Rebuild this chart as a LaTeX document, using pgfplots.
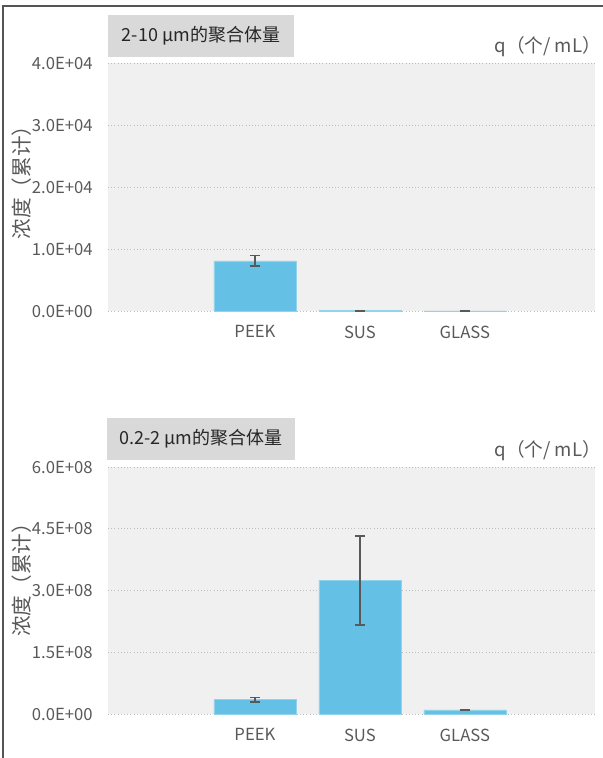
\documentclass[border=0pt]{standalone}
\usepackage{pgfplots}
\pgfplotsset{compat=1.18}
\usepackage{fontspec}
\setmainfont{Noto Sans CJK SC}
\definecolor{barblue}{HTML}{64C0E4}
\definecolor{bggray}{HTML}{F0F0F0}
\definecolor{txtgray}{HTML}{595959}
\definecolor{boxgray}{HTML}{D9D9D9}
\definecolor{gridgray}{HTML}{BDBDBD}
\definecolor{framegray}{HTML}{555555}
\pgfplotsset{
  mychart/.style={
    scale only axis,
    width=365.25pt,
    xmin=-1.4, xmax=3.24,
    ymin=0,
    scaled y ticks=false,
    axis line style={draw=none},
    axis background/.style={fill=bggray},
    ymajorgrids,
    major grid style={gridgray, dotted, line width=0.6pt},
    major tick length=0pt,
    tick style={draw=none},
    xtick={0,1,2},
    xticklabels={PEEK,SUS,GLASS},
    yticklabel style={anchor=east, xshift=-8pt, font=\fontsize{12.5}{14}\selectfont, text=txtgray},
    xticklabel style={anchor=north, yshift=-7.5pt, font=\fontsize{12.5}{14}\selectfont, text=txtgray},
    ybar, bar width=61.5pt, bar shift=0pt,
    clip=false,
  },
}
\begin{document}
\begin{tikzpicture}
\path[use as bounding box] (0,0) rectangle (452.25pt,-568.5pt);
\draw[framegray, line width=0.8pt] (2.25pt,-568.5pt) -- (2.25pt,-4.5pt) -- (452.25pt,-4.5pt);

% ---- top chart ----
\begin{axis}[mychart, at={(81pt,-233.25pt)}, anchor=south west,
  height=186pt, ymax=40000,
  ytick={0,10000,20000,30000,40000},
  yticklabels={0.0E+00,1.0E+04,2.0E+04,3.0E+04,4.0E+04}]
\addplot+[fill=barblue, draw=barblue!70!white, line width=0.4pt,
  error bars/.cd, y dir=both, y explicit,
  error bar style={txtgray, line width=1.2pt},
  error mark options={rotate=90, txtgray, mark size=3.75pt, line width=1.2pt}]
  coordinates {(0,8100) +- (0,850) (1,60) +- (0,30) (2,20) +- (0,20)};
\end{axis}
\fill[boxgray] (81pt,-11.25pt) rectangle (220.5pt,-42.75pt);
\node[anchor=center, text=black!85, font=\fontsize{13.5}{15}\selectfont] at (150.75pt,-27pt) {2-10 μm的聚合体量};
\node[anchor=east, inner sep=0pt, text=txtgray, font=\fontsize{14}{16}\selectfont] at (451pt,-35.25pt) {q（个/ mL）};
\node[rotate=90, text=txtgray, font=\fontsize{15.5}{17}\selectfont] at (16.5pt,-133pt) {浓度（累计）};

% ---- bottom chart ----
\begin{axis}[mychart, at={(81pt,-535.5pt)}, anchor=south west,
  height=185.25pt, ymax=6e8,
  ytick={0,1.5e8,3e8,4.5e8,6e8},
  yticklabels={0.0E+00,1.5E+08,3.0E+08,4.5E+08,6.0E+08}]
\addplot+[fill=barblue, draw=barblue!70!white, line width=0.4pt,
  error bars/.cd, y dir=both, y explicit,
  error bar style={txtgray, line width=1.2pt},
  error mark options={rotate=90, txtgray, mark size=3.75pt, line width=1.2pt}]
  coordinates {(0,3.5e7) +- (0,5.5e6) (1,3.24e8) +- (0,1.08e8) (2,1.0e7) +- (0,1.2e6)};
\end{axis}
\fill[boxgray] (80.25pt,-313.5pt) rectangle (221.25pt,-345pt);
\node[anchor=center, text=black!85, font=\fontsize{13.5}{15}\selectfont] at (150.75pt,-329.25pt) {0.2-2 μm的聚合体量};
\node[anchor=east, inner sep=0pt, text=txtgray, font=\fontsize{14}{16}\selectfont] at (451pt,-338.25pt) {q（个/ mL）};
\node[rotate=90, text=txtgray, font=\fontsize{15.5}{17}\selectfont] at (16.5pt,-431pt) {浓度（累计）};
\end{tikzpicture}
\end{document}
